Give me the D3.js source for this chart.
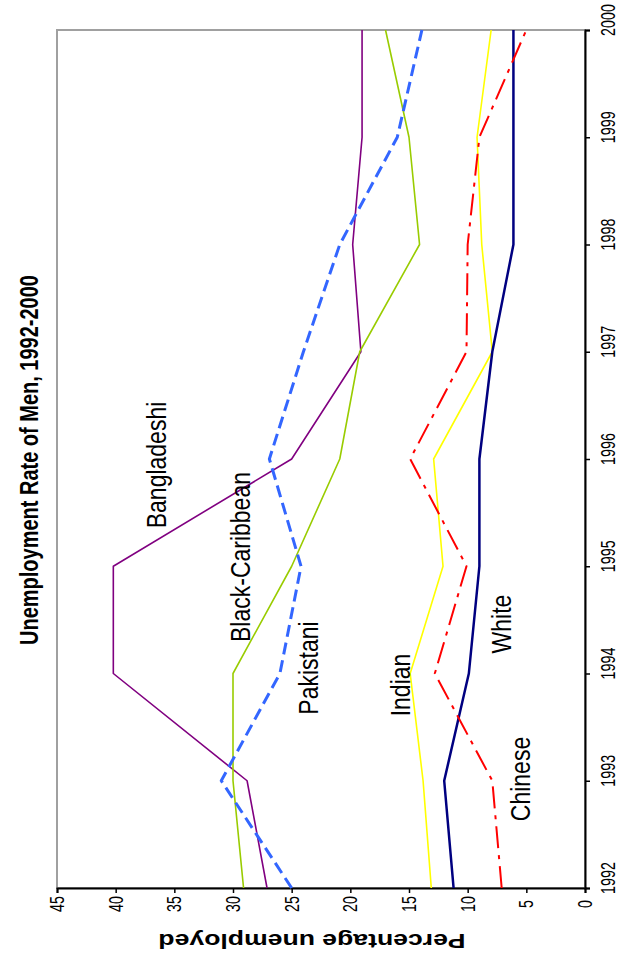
<!DOCTYPE html>
<html>
<head>
<meta charset="utf-8">
<script src="https://cdn.jsdelivr.net/npm/d3@7"></script>
<style>
  html, body { margin: 0; padding: 0; background: #fff; }
  svg { display: block; }
  text { font-family: "Liberation Sans", Arial, sans-serif; fill: #000; }
</style>
</head>
<body>
<svg id="chart" width="621" height="961"></svg>
<script>
// ---- data ----
const years = [1992, 1993, 1994, 1995, 1996, 1997, 1998, 1999, 2000];
const bangladeshi    = [27.1, 28.8, 40.2, 40.2, 25.0, 19.1, 19.8, 19.0, 19.0];
const blackCaribbean = [29.1, 30.0, 30.0, 25.0, 20.9, 19.2, 14.1, 15.0, 17.0];
const pakistani      = [25.0, 31.0, 26.0, 24.2, 26.9, 24.0, 20.9, 16.0, 13.9];
const indian         = [13.1, 13.8, 14.9, 12.1, 12.9, 7.9, 8.8, 9.2, 8.0];
const white          = [11.2, 12.0, 9.9, 9.0, 9.0, 7.9, 6.1, 6.1, 6.1];
const chinese        = [7.1, 7.9, 12.8, 10.1, 14.9, 10.1, 10.0, 9.0, 5.0];
const valueTicks = [0, 5, 10, 15, 20, 25, 30, 35, 40, 45];
const seriesNames = ["Bangladeshi", "Black-Caribbean", "Pakistani", "Indian", "White", "Chinese"];
const titleText = "Unemployment Rate of Men, 1992-2000";
const axisTitle = "Percentage unemployed";

// ---- layout (chart is rotated 90° counter-clockwise) ----
const svg = d3.select("#chart");
const yearScale = d3.scaleLinear().domain([1992, 2000]).range([888, 30]);   // screen y
const valScale  = d3.scaleLinear().domain([0, 45]).range([585, 57]);        // screen x

// plot frame
svg.append("rect")
  .attr("x", valScale(45)).attr("y", yearScale(2000))
  .attr("width", valScale(0) - valScale(45)).attr("height", yearScale(1992) - yearScale(2000))
  .attr("fill", "none").attr("stroke", "#a0a0a0").attr("stroke-width", 2);

// axes
const yearAxis = d3.axisRight(yearScale).tickValues(years).tickSize(5).tickFormat("");
const gYear = svg.append("g").attr("transform", `translate(${valScale(0)},0)`).call(yearAxis);
const valAxis = d3.axisBottom(valScale).tickValues(valueTicks).tickSize(5).tickFormat("");
const gVal = svg.append("g").attr("transform", `translate(0,${yearScale(1992)})`).call(valAxis);
[gYear, gVal].forEach(g => {
  g.select(".domain").attr("stroke", "#000").attr("stroke-width", 2);
  g.selectAll(".tick line").attr("stroke", "#000").attr("stroke-width", 1.5);
});

function rotText(x, y, txt, size, k, weight) {
  svg.append("text")
    .attr("transform", `translate(${x},${y}) rotate(-90) scale(1,${k})`)
    .attr("text-anchor", "middle")
    .attr("font-size", size)
    .attr("font-weight", weight || "normal")
    .text(txt);
}

// year tick labels
years.forEach(yr => rotText(615, yearScale(yr) - 10, String(yr), 14.3, 1.4));
// value tick labels
valueTicks.forEach(v => rotText(valScale(v) + 7, 904, String(v), 14.3, 1.45));

// axis title (upside down)
svg.append("text")
  .attr("transform", `translate(312,934) rotate(180) scale(1.33,1)`)
  .attr("text-anchor", "middle").attr("font-size", 20).attr("font-weight", "bold")
  .text(axisTitle);

// chart title
rotText(38, 460, titleText, 20, 1.33, "bold");

// ---- series ----
const series = [
  { name: seriesNames[0], values: bangladeshi,    color: "#800080", width: 1.6, dash: null },
  { name: seriesNames[1], values: blackCaribbean, color: "#99CC00", width: 1.6, dash: null },
  { name: seriesNames[2], values: pakistani,      color: "#3366FF", width: 3,   dash: "12,6" },
  { name: seriesNames[3], values: indian,         color: "#FFFF00", width: 1.6, dash: null },
  { name: seriesNames[4], values: white,          color: "#000080", width: 2.5, dash: null },
  { name: seriesNames[5], values: chinese,        color: "#FF0000", width: 2,   dash: "22,7,4,7" }
];
const line = d3.line().x(d => valScale(d.v)).y(d => yearScale(d.year));
series.forEach(s => {
  svg.append("path")
    .datum(years.map((yr, i) => ({ year: yr, v: s.values[i] })))
    .attr("d", line)
    .attr("fill", "none")
    .attr("stroke", s.color)
    .attr("stroke-width", s.width)
    .attr("stroke-dasharray", s.dash)
    .attr("stroke-linejoin", "round");
});

// series labels
const labelPos = [[166, 465], [250, 557], [318, 668], [410, 685], [511, 624], [530, 779]];
seriesNames.forEach((n, i) => rotText(labelPos[i][0], labelPos[i][1], n, 23, 1.2));
</script>
</body>
</html>
